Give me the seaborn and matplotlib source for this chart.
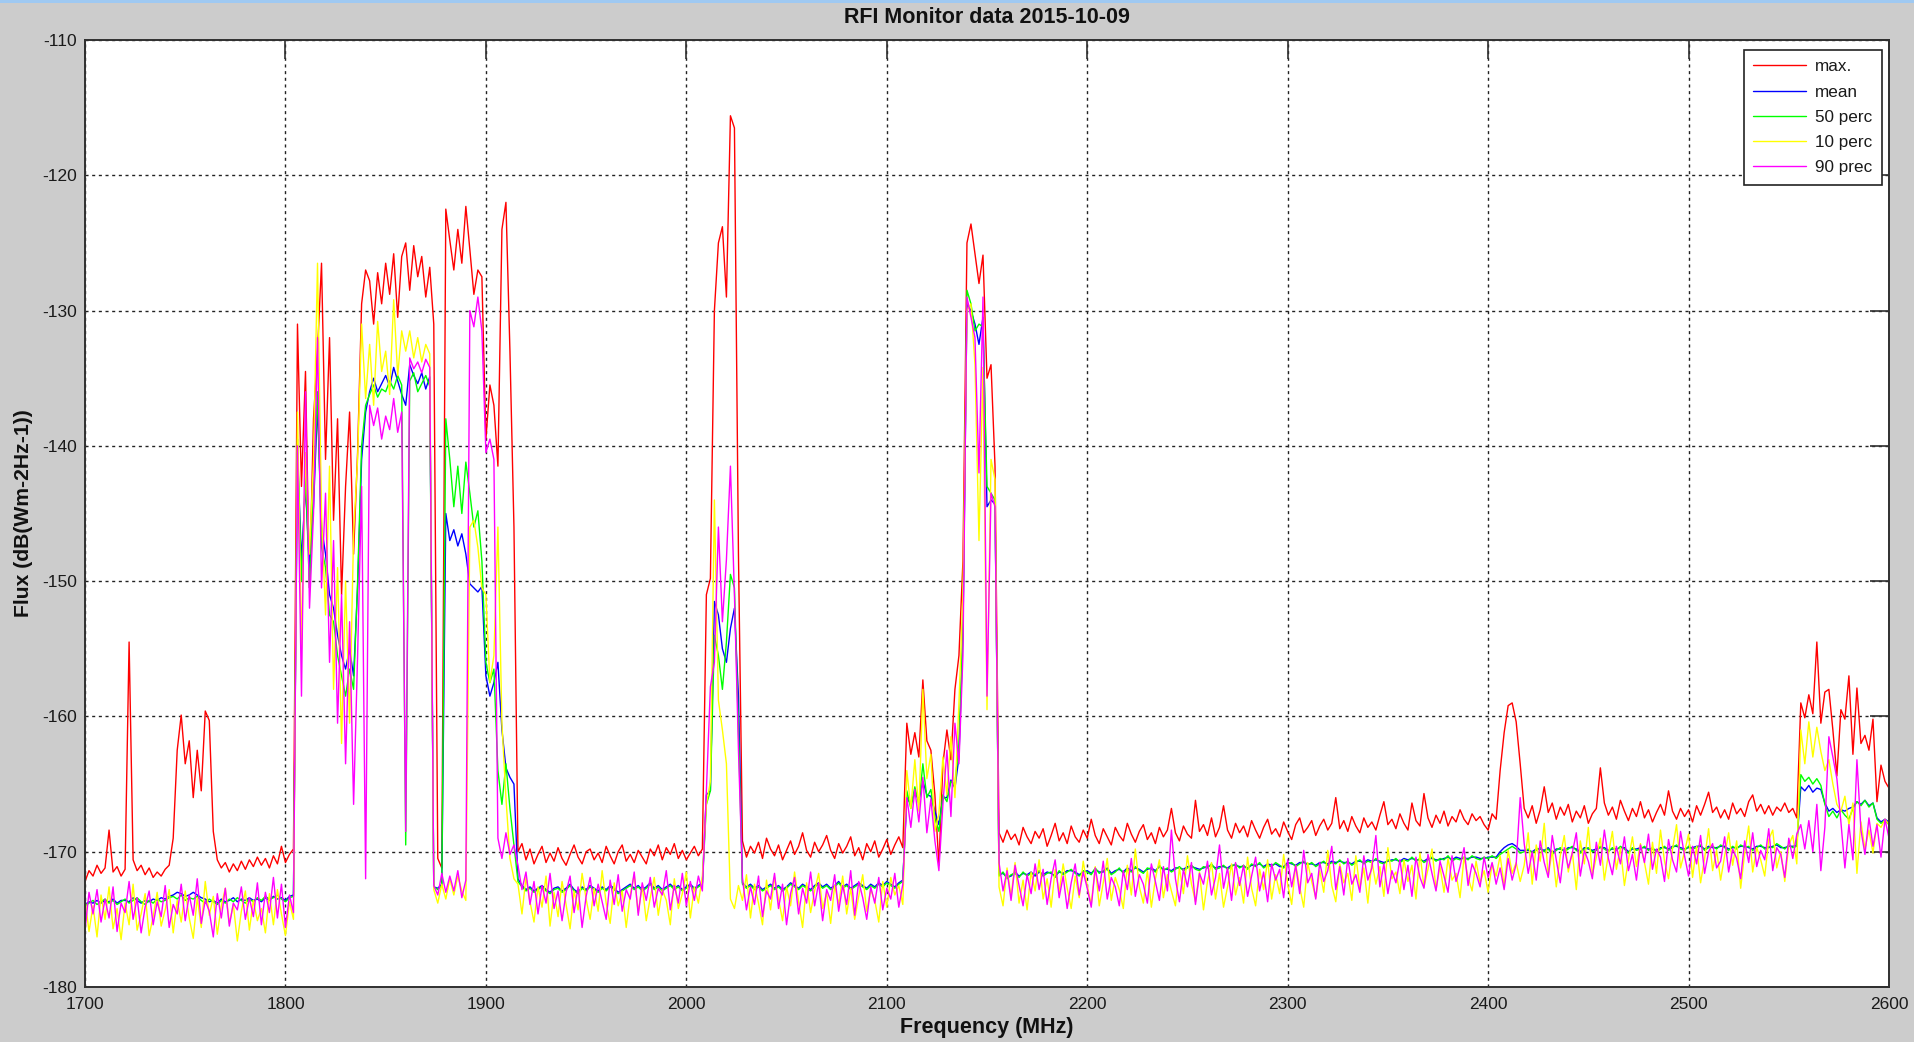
import numpy as np
import pandas as pd
import matplotlib
matplotlib.use("Agg")
import matplotlib.pyplot as plt
from matplotlib.patches import Rectangle
import seaborn as sns

# ---------------- data ----------------
freq_mhz = np.arange(1700, 2601, 2)

series_labels = ["max.", "mean", "50 perc", "10 perc", "90 prec"]
series_colors = ["#ff0000", "#0000ff", "#00ff00", "#ffff00", "#ff00ff"]

flux_max = [
    # 1700-1804
    -172.2, -171.4, -171.8, -171.0, -171.6, -171.2, -168.4, -171.5, -171.1, -171.8,
    -171.3, -154.5, -170.6, -171.4, -171.0, -171.7, -171.2, -171.9, -171.5, -171.8,
    -171.3, -171.0, -169.0, -162.5, -159.9, -163.5, -161.8, -166.0, -162.5, -165.5,
    -159.6, -160.3, -168.5, -170.6, -171.2, -170.8, -171.5, -170.9, -171.4, -170.7,
    -171.3, -170.6, -171.1, -170.4, -171.0, -170.5, -171.2, -170.3, -170.9, -169.6,
    -170.8, -170.2, -169.8,
    # 1806-1914
    -131.0, -143.0, -134.5, -150.5, -138.0, -133.0, -126.5, -141.0, -132.0, -145.5,
    -138.0, -151.0, -143.0, -137.5, -148.0, -140.5, -129.5, -127.0, -127.8, -131.0,
    -127.2, -129.5, -126.5, -128.8, -125.8, -130.5, -126.0, -125.0, -128.5, -125.2,
    -127.5, -126.0, -129.0, -126.8, -131.0, -170.5, -171.2, -122.5, -124.8, -127.0,
    -124.0, -126.5, -122.3, -125.5, -128.8, -127.0, -127.5, -139.5, -135.5, -137.0,
    -141.5, -124.0, -122.0, -133.0, -146.0,
    # 1916-2008
    -170.0, -169.4, -170.6, -169.8, -170.9, -170.2, -169.6, -170.8, -170.1, -170.7,
    -169.7, -170.5, -171.0, -170.2, -169.5, -170.4, -170.9, -170.0, -169.8, -170.6,
    -170.1, -170.8, -169.6, -170.3, -170.9, -170.0, -169.5, -170.7, -170.2, -170.8,
    -169.9, -170.4, -170.9, -169.8, -170.3, -169.5, -170.6, -169.7, -170.2, -169.4,
    -170.5, -169.9, -170.6, -170.1, -169.6, -170.3, -169.8,
    # 2010-2026
    -151.0, -149.8, -130.0, -125.0, -123.8, -129.0, -115.6, -116.5, -148.0,
    # 2028-2108
    -169.2, -170.4, -169.6, -170.1, -169.3, -170.5, -169.0, -169.8, -170.3, -169.5,
    -170.6, -169.9, -169.2, -170.2, -169.6, -168.6, -169.9, -170.4, -169.3, -170.0,
    -169.5, -168.8, -169.9, -170.5, -169.4, -170.1, -169.6, -168.9, -170.3, -169.7,
    -170.6, -169.4, -170.0, -169.2, -170.4, -169.8, -169.1, -170.2, -169.5, -168.9,
    -169.7,
    # 2110-2154
    -160.5, -162.8, -161.2, -163.0, -157.3, -161.8, -162.5, -165.8, -171.0, -163.5,
    -161.0, -163.2, -158.0, -155.5, -148.5, -125.0, -123.6, -125.8, -128.0, -125.9,
    -135.0, -134.0, -141.5,
    # 2156-2404
    -168.6, -169.3, -168.4, -169.1, -168.7, -169.5, -168.2, -168.9, -169.4, -168.5,
    -169.0, -168.3, -169.6, -168.8, -167.9, -169.2, -168.6, -169.4, -168.1, -168.9,
    -169.3, -168.4, -169.0, -167.6, -168.8, -169.4, -168.3, -168.9, -169.5, -168.2,
    -168.8, -169.2, -167.9, -168.7, -169.3, -168.5, -168.0, -169.1, -168.6, -169.4,
    -168.2, -168.9, -168.4, -166.8, -168.6, -169.2, -168.1, -168.7, -169.0, -166.2,
    -168.5, -168.0, -168.8, -167.5, -168.9, -168.2, -166.6, -168.4, -169.0, -167.9,
    -168.6, -168.1, -168.9, -167.7, -168.4, -169.0, -168.2, -167.6, -168.7, -168.3,
    -168.9, -167.8, -168.5, -169.1, -168.0, -167.5, -168.6, -168.2, -167.7, -168.8,
    -168.1, -167.6, -168.4, -167.9, -166.0, -168.3, -167.7, -168.5, -167.4, -168.1,
    -168.6, -167.5, -168.2, -167.8, -168.4, -167.3, -166.3, -168.0, -167.6, -168.3,
    -167.2, -167.9, -168.4, -166.4, -167.7, -168.1, -165.7, -167.5, -168.2, -167.3,
    -167.9, -167.0, -168.1, -167.4, -167.8, -166.9, -167.6, -168.0, -167.2, -167.7,
    -167.4, -168.0, -168.4, -167.2, -167.6,
    # 2406-2416
    -164.0, -161.2, -159.2, -159.0, -160.4, -163.5,
    # 2418-2554
    -166.8, -167.5, -166.6, -167.9, -166.9, -165.2, -167.1, -166.4, -167.6, -166.7,
    -167.3, -166.5, -167.8, -167.0, -167.5, -166.6, -167.9, -167.2, -166.8, -163.8,
    -166.4, -167.3, -166.7, -167.6, -166.2, -167.0, -167.7, -166.8, -167.4, -166.3,
    -167.5, -166.9, -167.8, -167.1, -166.5, -167.3, -165.5, -167.0, -167.6, -166.8,
    -167.4, -166.9, -167.8, -166.6, -167.3, -166.5, -165.6, -167.1, -166.7, -167.5,
    -166.9, -167.6, -166.4, -167.2, -166.8, -167.4, -166.3, -165.8, -167.0, -166.5,
    -167.2, -166.6, -167.3, -166.7, -167.0, -166.4, -167.1, -166.8, -167.5,
    # 2556-2600
    -159.0, -160.1, -158.4, -159.8, -154.5, -160.5, -158.2, -158.0, -161.0, -164.4,
    -159.5, -160.2, -157.0, -162.8, -157.9, -162.0, -161.4, -162.5, -160.2, -166.3,
    -163.6, -164.8, -165.3,
]

flux_mean = [
    # 1700-1804
    -173.9, -173.7, -173.8, -173.6, -173.8, -173.6, -173.7, -173.5, -173.8, -173.6,
    -173.6, -173.7, -173.4, -173.6, -173.8, -173.6, -173.7, -173.5, -173.6, -173.4,
    -173.5, -173.3, -173.2, -173.0, -173.1, -173.3, -173.2, -173.0, -173.2, -173.4,
    -173.5, -173.7, -173.6, -173.8, -173.5, -173.7, -173.6, -173.4, -173.7, -173.5,
    -173.6, -173.4, -173.6, -173.5, -173.7, -173.4, -173.6, -173.3, -173.5, -173.4,
    -173.6, -173.3, -173.2,
    # 1806-1914
    -140.5, -148.5, -143.0, -149.0, -144.5, -137.0, -146.0, -148.0, -151.0, -152.0,
    -154.0, -155.5, -156.5, -155.0, -157.0, -150.5, -141.0, -137.5, -136.0, -135.0,
    -136.0, -135.4, -134.8, -135.6, -134.2, -135.2, -136.2, -137.0, -134.0, -134.8,
    -135.4, -134.6, -135.8, -134.9, -172.6, -172.7, -172.4, -145.0, -147.0, -146.2,
    -147.4, -146.5, -148.0, -150.2, -150.5, -150.8, -150.4, -157.0, -158.5, -157.5,
    -156.0, -161.0, -163.8, -164.5, -165.0,
    # 1916-2008
    -172.0, -172.5, -172.8, -172.6, -172.9, -172.7, -172.5, -172.8, -173.0, -172.7,
    -172.6, -172.9, -172.7, -172.4, -172.8, -173.0, -172.6, -172.8, -172.5, -172.7,
    -172.9, -172.6, -172.8, -172.5, -172.7, -173.0, -172.8, -172.6, -172.4, -172.7,
    -172.5, -172.8, -172.6, -172.3, -172.7, -172.5, -172.8, -172.6, -172.4, -172.7,
    -172.5, -172.8, -172.6, -172.4, -172.7, -172.5, -172.3,
    # 2010-2026
    -165.8, -165.5, -151.5, -152.5, -155.0, -156.0, -153.5, -152.0, -158.5,
    # 2028-2108
    -172.3, -172.6, -172.4, -172.7, -172.5, -172.8, -172.6, -172.4, -172.7, -172.5,
    -172.8, -172.6, -172.3, -172.5, -172.7, -172.4, -172.6, -172.8, -172.5, -172.3,
    -172.6, -172.4, -172.7, -172.5, -172.2, -172.6, -172.4, -172.7, -172.5, -172.3,
    -172.5, -172.7, -172.4, -172.6, -172.3, -172.5, -172.2, -172.4, -172.6, -172.3,
    -172.1,
    # 2110-2154
    -166.0, -166.5, -165.6, -166.2, -164.8, -165.8, -165.9, -167.0, -168.0, -166.0,
    -166.0, -164.7, -165.3, -163.0, -154.0, -129.5, -130.0, -131.0, -132.5, -130.5,
    -144.5, -144.0, -144.3,
    # 2156-2404
    -171.7, -171.6, -171.9, -171.8, -171.5, -171.8, -171.6, -171.7, -171.5, -171.8,
    -171.5, -171.7, -171.5, -171.6, -171.8, -171.5, -171.6, -171.4, -171.4, -171.5,
    -171.7, -171.5, -171.4, -171.6, -171.3, -171.5, -171.5, -171.2, -171.6, -171.4,
    -171.3, -171.5, -171.2, -171.4, -171.2, -171.3, -171.5, -171.3, -171.2, -171.4,
    -171.1, -171.3, -171.3, -171.4, -171.2, -171.2, -171.3, -171.1, -171.1, -171.2,
    -171.3, -171.2, -171.1, -171.0, -171.2, -171.1, -171.1, -171.2, -171.0, -171.0,
    -171.1, -171.1, -171.2, -171.0, -171.0, -170.9, -171.1, -170.9, -171.0, -170.9,
    -171.1, -171.1, -170.8, -170.9, -171.0, -170.8, -170.8, -170.9, -170.9, -171.0,
    -170.8, -170.8, -170.9, -170.7, -170.8, -170.7, -170.8, -170.8, -170.9, -170.7,
    -170.7, -170.8, -170.6, -170.7, -170.6, -170.7, -170.8, -170.7, -170.6, -170.6,
    -170.7, -170.5, -170.6, -170.5, -170.6, -170.6, -170.7, -170.5, -170.5, -170.6,
    -170.6, -170.5, -170.4, -170.6, -170.4, -170.5, -170.5, -170.5, -170.4, -170.4,
    -170.5, -170.5, -170.4, -170.4, -170.4,
    # 2406-2416
    -170.0, -169.7, -169.5, -169.4, -169.6, -169.9,
    # 2418-2554
    -169.9, -169.9, -170.0, -169.8, -169.8, -169.9, -169.7, -170.1, -169.8, -169.8,
    -169.9, -169.7, -169.7, -169.8, -170.0, -169.7, -169.8, -169.9, -169.8, -169.7,
    -169.7, -169.9, -169.8, -169.8, -169.7, -169.7, -170.0, -169.8, -169.8, -169.7,
    -169.7, -169.8, -169.8, -169.9, -169.7, -169.7, -169.8, -169.6, -169.6, -169.7,
    -169.8, -169.7, -169.7, -169.6, -169.6, -169.8, -169.6, -169.7, -169.7, -169.6,
    -169.6, -169.8, -169.7, -169.7, -169.6, -169.6, -169.7, -169.8, -169.6, -169.6,
    -169.7, -169.7, -169.6, -169.5, -169.7, -169.7, -169.6, -169.6, -169.5,
    # 2556-2600
    -165.2, -165.5, -165.1, -165.6, -165.3, -165.4, -166.4, -167.0, -166.8, -167.1,
    -166.9, -167.0, -166.8, -166.7, -166.3, -166.5, -166.2, -166.6, -166.4, -167.5,
    -167.8, -167.6, -167.8,
]

flux_p50 = [
    # 1700-1804
    -174.0, -173.8, -173.6, -173.9, -173.7, -173.5, -173.8, -173.6, -173.9, -173.7,
    -173.5, -173.8, -173.6, -173.4, -173.7, -173.9, -173.6, -173.8, -173.5, -173.7,
    -173.6, -173.4, -173.3, -173.5, -173.2, -173.6, -173.4, -173.5, -173.3, -173.6,
    -173.8, -173.5, -173.7, -173.9, -173.6, -173.8, -173.5, -173.7, -173.4, -173.6,
    -173.8, -173.5, -173.7, -173.4, -173.6, -173.3, -173.5, -173.4, -173.2, -173.5,
    -173.7, -173.4, -173.3,
    # 1806-1914
    -139.5, -150.0, -142.0, -150.5, -143.5, -136.0, -147.5, -149.0, -152.5, -153.0,
    -155.5, -157.0, -158.5, -156.5, -158.0, -150.0, -140.0, -137.0, -136.2, -135.5,
    -136.4, -135.8, -136.0, -135.2, -135.8, -134.8, -135.5, -169.5, -135.2, -134.6,
    -136.0, -135.4, -134.8, -135.6, -172.6, -172.8, -172.5, -138.0, -141.0, -144.5,
    -141.5, -145.0, -141.2, -143.5, -146.0, -144.8, -148.5, -156.0, -157.5, -156.5,
    -164.0, -166.5, -163.5, -166.8, -169.5,
    # 1916-2008
    -172.2, -172.6, -172.9, -172.7, -173.0, -172.8, -172.6, -172.9, -173.1, -172.8,
    -172.7, -173.0, -172.8, -172.5, -172.9, -173.1, -172.7, -172.9, -172.6, -172.8,
    -173.0, -172.7, -172.9, -172.6, -172.8, -173.1, -172.9, -172.7, -172.5, -172.8,
    -172.6, -172.9, -172.7, -172.4, -172.8, -172.6, -172.9, -172.7, -172.5, -172.8,
    -172.6, -172.9, -172.7, -172.5, -172.8, -172.6, -172.4,
    # 2010-2026
    -166.5, -165.5, -154.0, -155.5, -158.0, -154.5, -149.5, -150.5, -161.0,
    # 2028-2108
    -172.4, -172.7, -172.5, -172.8, -172.6, -172.9, -172.7, -172.5, -172.8, -172.6,
    -172.9, -172.7, -172.4, -172.6, -172.8, -172.5, -172.7, -172.9, -172.6, -172.4,
    -172.7, -172.5, -172.8, -172.6, -172.3, -172.7, -172.5, -172.8, -172.6, -172.4,
    -172.6, -172.8, -172.5, -172.7, -172.4, -172.6, -172.3, -172.5, -172.7, -172.4,
    -172.2,
    # 2110-2154
    -165.5, -166.8, -165.2, -166.5, -163.5, -166.0, -165.4, -167.5, -168.5, -165.8,
    -166.3, -164.8, -165.0, -162.0, -153.5, -128.5, -129.5, -131.5, -131.0, -131.2,
    -143.0, -143.5, -144.0,
    # 2156-2404
    -171.8, -171.5, -172.0, -171.7, -171.6, -171.9, -171.5, -171.8, -171.6, -171.7,
    -171.4, -171.8, -171.6, -171.5, -171.9, -171.4, -171.7, -171.5, -171.3, -171.6,
    -171.8, -171.4, -171.5, -171.7, -171.2, -171.6, -171.4, -171.3, -171.7, -171.5,
    -171.2, -171.6, -171.3, -171.5, -171.1, -171.4, -171.6, -171.2, -171.3, -171.5,
    -171.0, -171.4, -171.2, -171.5, -171.3, -171.1, -171.4, -171.2, -171.0, -171.3,
    -171.4, -171.1, -171.2, -170.9, -171.3, -171.2, -171.0, -171.3, -171.1, -170.9,
    -171.2, -171.0, -171.3, -170.9, -171.1, -170.8, -171.2, -171.0, -171.1, -170.8,
    -171.0, -171.2, -170.9, -170.8, -171.1, -170.9, -170.7, -171.0, -170.8, -171.1,
    -170.9, -170.7, -171.0, -170.8, -170.9, -170.6, -170.9, -170.7, -171.0, -170.8,
    -170.6, -170.9, -170.7, -170.8, -170.5, -170.8, -170.9, -170.6, -170.7, -170.5,
    -170.8, -170.6, -170.7, -170.4, -170.7, -170.5, -170.8, -170.6, -170.4, -170.7,
    -170.5, -170.6, -170.3, -170.7, -170.5, -170.6, -170.4, -170.6, -170.3, -170.5,
    -170.6, -170.4, -170.5, -170.3, -170.5,
    # 2406-2416
    -170.2, -170.0, -169.8, -169.6, -169.8, -170.1,
    # 2418-2554
    -170.0, -169.8, -170.1, -169.9, -169.7, -170.0, -169.8, -170.2, -169.9, -169.7,
    -170.0, -169.8, -169.6, -169.9, -170.1, -169.8, -169.7, -170.0, -169.9, -169.6,
    -169.8, -170.0, -169.7, -169.9, -169.6, -169.8, -170.1, -169.7, -169.9, -169.8,
    -169.6, -169.9, -169.7, -170.0, -169.8, -169.6, -169.9, -169.7, -169.5, -169.8,
    -169.9, -169.6, -169.8, -169.7, -169.5, -169.9, -169.7, -169.6, -169.8, -169.5,
    -169.7, -169.9, -169.6, -169.8, -169.5, -169.7, -169.6, -169.9, -169.7, -169.5,
    -169.8, -169.6, -169.7, -169.4, -169.6, -169.8, -169.5, -169.7, -169.6,
    # 2556-2600
    -164.3, -164.8, -164.5, -165.0, -164.6, -165.1, -166.5, -167.4, -167.0, -167.5,
    -166.9, -167.3, -167.6, -166.8, -166.3, -166.6, -166.2, -166.7, -166.4, -167.6,
    -167.9, -167.7, -168.0,
]

flux_p10 = [
    # 1700-1804
    -173.5, -175.9, -174.0, -176.3, -173.2, -175.0, -172.6, -175.7, -174.2, -176.5,
    -173.8, -175.4, -172.4, -175.8, -174.6, -173.1, -176.2, -174.8, -173.0, -175.5,
    -174.3, -172.8, -176.0, -173.6, -175.2, -172.9, -174.9, -176.4, -173.4, -175.6,
    -172.2, -174.7, -173.3, -176.1, -174.0, -172.7, -175.3, -173.9, -176.6, -174.4,
    -172.9, -175.8, -173.6, -175.1, -174.2, -176.0, -173.1, -175.4, -172.8, -174.6,
    -176.2, -173.7, -175.0,
    # 1806-1914
    -137.5, -155.0, -140.5, -148.0, -141.0, -126.5, -145.0, -152.5, -141.5, -158.0,
    -149.0, -162.0, -150.0, -160.5, -146.5, -141.0, -131.0, -136.5, -132.5, -137.0,
    -130.8, -134.5, -133.0, -136.2, -129.2, -134.8, -131.5, -133.0, -131.5, -133.5,
    -132.0, -133.8, -132.5, -133.2, -172.8, -173.8, -172.4, -173.5, -172.0, -173.2,
    -171.8, -172.9, -173.6, -146.0, -145.5, -147.5, -150.5, -151.0, -157.5, -155.5,
    -146.0, -160.5, -166.0, -170.5, -172.0,
    # 1916-2008
    -172.4, -174.6, -171.9, -173.7, -175.2, -172.6, -174.1, -171.8, -175.5, -173.0,
    -174.8, -172.2, -173.9, -175.7, -172.9, -174.3, -171.6, -173.5, -175.0, -172.7,
    -174.4, -171.4, -173.8, -175.3, -172.3, -174.0, -172.9, -175.6, -173.2, -171.7,
    -174.5, -172.5, -175.1, -173.4, -171.9, -174.7, -172.8, -173.6, -175.4, -172.0,
    -174.2, -173.1, -171.5, -174.9, -172.6, -173.8, -171.8,
    # 2010-2026
    -166.5, -164.8, -144.0, -158.8, -161.0, -163.5, -173.5, -174.2, -172.5,
    # 2028-2108
    -173.6, -171.7, -174.9, -172.4, -173.8, -175.4, -172.1, -174.3, -171.9, -173.5,
    -175.1, -172.6, -174.0, -171.5, -173.7, -175.6, -172.3, -174.5, -172.9, -171.6,
    -174.2, -173.0, -175.3, -172.5, -173.9, -171.8, -174.6, -172.7, -175.0, -173.3,
    -171.7, -174.4, -172.8, -173.6, -175.2, -172.2, -174.1, -171.9, -173.2, -172.5,
    -173.9,
    # 2110-2154
    -164.0, -166.8, -163.2, -167.0, -158.0, -164.6, -162.8, -168.5, -167.2, -163.0,
    -165.8, -161.5, -166.0, -159.0, -151.0, -130.0, -129.5, -134.0, -147.0, -134.2,
    -159.5, -141.0, -142.5,
    # 2156-2404
    -172.6, -174.0, -171.2, -173.3, -170.8, -173.8, -172.1, -174.3, -171.5, -172.9,
    -170.6, -173.5, -172.0, -174.1, -171.3, -173.0, -170.9, -172.7, -174.2, -171.8,
    -173.4, -170.7, -172.5, -173.9, -171.1, -174.0, -172.3, -170.5, -173.6, -171.9,
    -172.8, -174.2, -171.0, -173.2, -169.8, -172.6, -173.8, -171.4, -174.1, -172.0,
    -170.6, -173.4, -171.7, -172.9, -174.0, -171.2, -173.1, -170.3, -172.4, -173.7,
    -171.5, -174.3, -172.2, -170.8, -173.5, -171.6, -174.1, -172.6, -170.9, -173.2,
    -171.9, -173.8, -170.4, -172.7, -174.0, -171.3, -172.8, -170.6, -173.5, -171.7,
    -173.1, -170.2, -172.4, -173.9, -171.0, -172.6, -174.1, -170.8, -172.2, -173.4,
    -171.4, -173.0, -169.9, -172.5, -173.7, -170.9, -172.3, -171.6, -173.6, -170.3,
    -172.7, -171.2, -173.8, -170.7, -172.4, -171.1, -173.3, -169.7, -172.0, -171.5,
    -173.1, -170.6, -172.2, -171.0, -173.5, -170.1, -172.6, -171.3, -169.8, -172.8,
    -171.1, -173.0, -170.5, -172.1, -171.6, -173.4, -170.4, -171.9, -172.9, -170.7,
    -172.3, -171.4, -173.0, -170.9, -171.8,
    # 2406-2416
    -170.3, -172.5, -169.9, -171.6, -170.8, -172.2,
    # 2418-2554
    -171.0, -168.6, -172.4, -169.5, -170.7, -167.9, -171.8, -169.9, -172.6, -170.3,
    -168.8, -171.5, -170.0, -172.8, -169.2, -170.9, -168.2, -171.7, -170.4, -169.0,
    -172.1, -170.2, -168.5, -171.3, -169.7, -172.5, -170.6, -168.9, -171.1, -169.4,
    -170.8, -172.4, -169.3, -171.6, -168.4, -170.7, -172.0, -169.8, -168.0, -171.2,
    -170.0, -168.7, -171.9, -169.6, -172.3, -170.5, -168.3, -171.4, -169.9, -172.1,
    -170.3, -168.6, -171.0, -169.2, -172.7, -170.1, -168.1, -171.5, -169.7, -170.6,
    -171.8, -169.1, -168.4, -171.2, -170.0, -172.2, -169.5, -168.8, -170.9,
    # 2556-2600
    -161.0, -163.5, -160.4, -163.0, -160.8, -162.6, -164.0, -163.2, -165.0, -166.5,
    -167.0, -165.9, -168.0, -166.4, -171.6, -167.8, -169.8, -168.4, -170.1, -167.9,
    -168.2, -167.6, -168.0,
]

flux_p90 = [
    # 1700-1804
    -175.8, -173.0, -174.6, -172.8, -175.2, -173.5, -174.9, -172.6, -175.9, -173.8,
    -174.5, -172.2, -175.0, -173.4, -176.0, -174.1, -172.9, -175.4, -173.7, -174.8,
    -172.5, -175.6, -173.9, -174.6, -172.4, -175.1, -173.2, -174.7, -172.0, -175.3,
    -173.6, -174.4, -176.3, -173.1, -174.9, -172.7, -175.5, -173.8, -174.3, -172.6,
    -175.0, -173.4, -174.8, -172.3, -175.4, -173.0, -174.5, -171.9, -174.9, -172.4,
    -175.6, -173.2, -174.5,
    # 1806-1914
    -140.0, -158.5, -136.0, -152.0, -145.0, -132.0, -150.5, -143.5, -156.0, -147.0,
    -160.5, -151.0, -163.5, -153.0, -166.5, -155.5, -143.0, -172.0, -137.0, -138.5,
    -137.2, -139.5, -137.8, -138.8, -136.5, -139.0, -137.5, -168.5, -133.5, -134.3,
    -133.8, -134.6, -133.6, -134.2, -172.5, -173.2, -171.6, -173.0, -171.8, -172.9,
    -171.4, -173.4, -172.1, -130.0, -131.2, -129.0, -131.5, -140.5, -139.5, -141.0,
    -169.0, -170.5, -168.6, -170.2, -169.5,
    # 1916-2008
    -171.0, -172.8, -171.5, -173.9, -172.2, -174.6, -172.5, -173.8, -171.6, -174.2,
    -172.9, -175.1, -173.0, -171.8, -174.5, -172.6, -175.6, -173.3, -171.9, -174.0,
    -172.4, -173.7, -175.0, -172.1, -173.9, -171.7, -174.4, -172.8, -173.5, -171.5,
    -174.7, -172.3, -173.6, -171.9, -174.1, -172.7, -173.2, -171.4, -174.3, -172.5,
    -173.8, -171.6, -174.0, -172.2, -173.6, -171.8, -172.9,
    # 2010-2026
    -165.5, -157.8, -156.0, -146.0, -153.0, -148.4, -141.5, -151.0, -162.5,
    # 2028-2108
    -172.0, -174.3, -172.6, -173.9, -171.8, -174.8, -172.9, -173.5, -171.6, -174.2,
    -172.4, -175.4, -173.1, -171.9, -174.6, -172.7, -173.8, -171.5, -174.0, -172.3,
    -175.1, -172.8, -173.6, -171.7, -174.4, -172.5, -173.9, -171.4, -174.7, -172.2,
    -173.4, -175.0, -172.6, -173.8, -171.9, -174.3, -172.7, -173.5, -171.6, -174.1,
    -172.4,
    # 2110-2154
    -166.0, -168.2, -165.4, -167.8, -164.5, -168.6, -166.1, -169.2, -171.4, -166.5,
    -162.5, -167.4, -160.5, -163.5, -155.5, -129.0, -130.5, -132.0, -142.0, -129.0,
    -158.5, -143.5, -144.5,
    # 2156-2404
    -170.8, -172.9, -171.4, -173.6, -171.0, -172.5, -174.0, -171.7, -173.1, -170.9,
    -172.8, -171.3, -173.9, -172.0, -170.6, -173.4, -171.8, -174.2, -172.3, -170.9,
    -173.2, -171.5, -172.7, -174.1, -171.2, -172.9, -170.7, -173.5, -171.9, -172.6,
    -174.0, -171.4, -172.8, -170.5, -173.3, -171.7, -172.4, -173.8, -170.9, -172.2,
    -173.6, -171.1, -172.9, -168.4, -172.0, -173.7, -171.3, -172.6, -170.8, -173.9,
    -171.6, -172.4, -170.7, -173.2, -171.9, -169.5, -172.7, -171.2, -173.6, -170.8,
    -172.5, -171.0, -173.3, -171.8, -170.4, -172.9, -171.5, -173.7, -170.9, -172.1,
    -171.3, -173.4, -170.6, -172.6, -171.0, -173.1, -169.9, -172.3, -171.6, -173.5,
    -170.8, -172.2, -171.4, -169.6, -172.8, -171.1, -173.2, -170.5, -172.4, -171.7,
    -173.0, -170.3, -172.1, -171.2, -168.8, -172.6, -170.9, -173.1, -171.4, -172.3,
    -170.6, -172.8, -171.0, -173.3, -170.4, -171.9, -172.7, -170.2, -171.6, -172.9,
    -170.7, -171.8, -173.0, -170.3, -172.2, -171.1, -169.7, -172.5, -170.9, -171.6,
    -172.6, -170.4, -171.9, -170.8, -172.4,
    # 2406-2416
    -171.2, -172.8, -170.5, -172.1, -170.9, -166.0,
    # 2418-2554
    -169.4, -171.6, -170.0, -172.1, -169.2, -170.8, -171.9, -168.8, -170.6, -172.3,
    -169.7, -171.2, -170.1, -168.6, -171.8, -169.9, -170.7, -172.0, -169.3, -171.0,
    -168.4, -170.5, -171.7, -169.6, -170.9, -168.9, -171.4, -170.2, -172.1, -169.5,
    -170.8, -168.7, -171.3, -169.8, -170.4, -172.2, -169.1, -170.6, -171.5, -168.5,
    -170.3, -171.8, -169.6, -170.9, -168.8, -171.6, -170.0, -169.4, -171.2, -170.7,
    -168.9, -171.5, -169.8, -170.5, -172.0, -169.2, -170.8, -168.6, -171.1, -169.9,
    -170.6, -168.3, -171.4, -169.7, -170.2, -171.9, -169.0, -170.5, -168.7,
    # 2556-2600
    -168.0, -169.8, -167.7, -170.0, -166.5, -171.4, -168.2, -161.5, -163.0, -164.6,
    -167.8, -171.2, -168.0, -170.6, -163.2, -168.4, -170.2, -167.5, -169.6, -168.0,
    -170.4, -167.6, -169.0,
]

x_ticks = [1700, 1800, 1900, 2000, 2100, 2200, 2300, 2400, 2500, 2600]
y_ticks = [-180, -170, -160, -150, -140, -130, -120, -110]

all_series = [flux_max, flux_mean, flux_p50, flux_p10, flux_p90]
for lab, s in zip(series_labels, all_series):
    if len(s) != len(freq_mhz):
        raise ValueError(f"{lab}: {len(s)} values, expected {len(freq_mhz)}")

df = pd.DataFrame({
    "Frequency": np.tile(freq_mhz, len(series_labels)),
    "Flux": np.concatenate([np.asarray(s, float) for s in all_series]),
    "series": np.repeat(series_labels, len(freq_mhz)),
})

# ---------------- style ----------------
sns.set_style("white")
plt.rcParams["font.family"] = ["Liberation Sans", "DejaVu Sans"]
plt.rcParams["axes.unicode_minus"] = False

W, H = 1915, 1042
fig = plt.figure(figsize=(W / 100, H / 100), dpi=100)
fig.patch.set_facecolor("#cccccc")
fig.add_artist(Rectangle((0, 1 - 3 / H), 1, 3 / H, transform=fig.transFigure,
                         facecolor="#9fc9f2", edgecolor="none"))

ax_l, ax_r, ax_t, ax_b = 85, 1889, 40, 987
ax = fig.add_axes([ax_l / W, 1 - ax_b / H, (ax_r - ax_l) / W, (ax_b - ax_t) / H])
ax.set_facecolor("white")

sns.lineplot(data=df, x="Frequency", y="Flux", hue="series",
             hue_order=series_labels, palette=series_colors,
             estimator=None, errorbar=None, sort=False,
             linewidth=1.0, ax=ax)

ax.set_xlim(1700, 2600)
ax.set_ylim(-180, -110)
ax.set_xticks(x_ticks)
ax.set_yticks(y_ticks)
ax.set_xticklabels([str(t) for t in x_ticks])
ax.set_yticklabels([str(t) for t in y_ticks])

ax.grid(True, color="#222222", linestyle=(0, (2.2, 2.6)), linewidth=1.0)
ax.set_axisbelow(True)
for sp in ax.spines.values():
    sp.set_visible(True)
    sp.set_color("#303030")
    sp.set_linewidth(1.4)

ax.tick_params(axis="both", which="major", direction="in", length=14, width=1.2,
               color="#303030", top=True, right=True, labelsize=12.5,
               labelcolor="#1a1a1a")
ax.tick_params(axis="y", pad=6)
ax.tick_params(axis="x", pad=7)

ax.set_title("RFI Monitor data 2015-10-09", fontsize=15.5, fontweight="bold",
             color="#111111", pad=12)
ax.set_xlabel("Frequency (MHz)", fontsize=15.5, fontweight="bold", color="#111111")
ax.set_ylabel("Flux (dB(Wm-2Hz-1))", fontsize=15.2, fontweight="bold", color="#111111")
ax.xaxis.set_label_coords(0.5, -(1017 - ax_b) / (ax_b - ax_t))
ax.yaxis.set_label_coords(-(ax_l - 33) / (ax_r - ax_l), 0.5)

handles, labels = ax.get_legend_handles_labels()
for h in handles:
    h.set_linewidth(1.0)
leg = ax.legend(handles, labels, loc="upper right",
                bbox_to_anchor=((1882 - ax_l) / (ax_r - ax_l), 1 - (50 - ax_t) / (ax_b - ax_t)),
                borderaxespad=0, fontsize=12.3, frameon=True, fancybox=False,
                handlelength=3.1, handletextpad=0.53, labelspacing=0.6,
                borderpad=0.55)
leg.get_frame().set_edgecolor("#222222")
leg.get_frame().set_linewidth(1.2)
leg.get_frame().set_facecolor("white")
leg.get_frame().set_alpha(1.0)
for t in leg.get_texts():
    t.set_color("#1a1a1a")

fig.savefig("out.png", dpi=100, facecolor=fig.get_facecolor())
